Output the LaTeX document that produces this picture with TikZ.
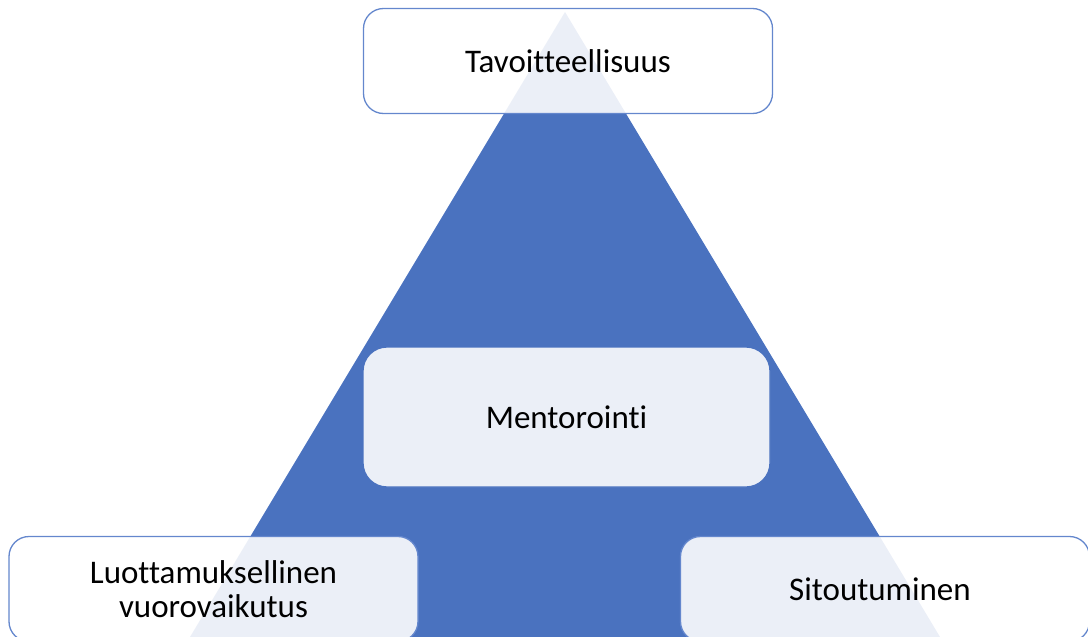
\documentclass[tikz,border=0pt]{standalone}
\usepackage{fontspec}
\setmainfont{Carlito}[Ligatures=NoCommon]
\definecolor{tri}{RGB}{74,114,191}
\definecolor{edge}{RGB}{100,135,205}
\begin{document}
\begin{tikzpicture}[x=1pt,y=-1pt,
  box/.style={draw=edge, line width=1.3pt, fill=white, fill opacity=0.89, text opacity=1,
    rounded corners=20pt, align=center, inner sep=0pt,
    minimum width=409pt, minimum height=105pt,
    font=\fontsize{33}{34}\selectfont},
  pyramid/.style={fill=tri}]
\useasboundingbox (0,0) rectangle (1088,637);
\begin{scope}
\clip (0,0) rectangle (1088,637);
\fill[pyramid] (565,12) -- (169,672) -- (961,672) -- cycle;
\node[box] (top) at (568,61) {Tavoitteellisuus};
\node[box, draw=tri, minimum width=407pt, minimum height=140pt, rounded corners=24pt] (mid) at (566.5,417) {Mentorointi};
\node[box] (left) at (213.5,589) {Luottamuksellinen\\vuorovaikutus};
\node[box] (right) at (885,589) {\hspace*{-10pt}Sitoutuminen};
\end{scope}
\end{tikzpicture}
\end{document}
